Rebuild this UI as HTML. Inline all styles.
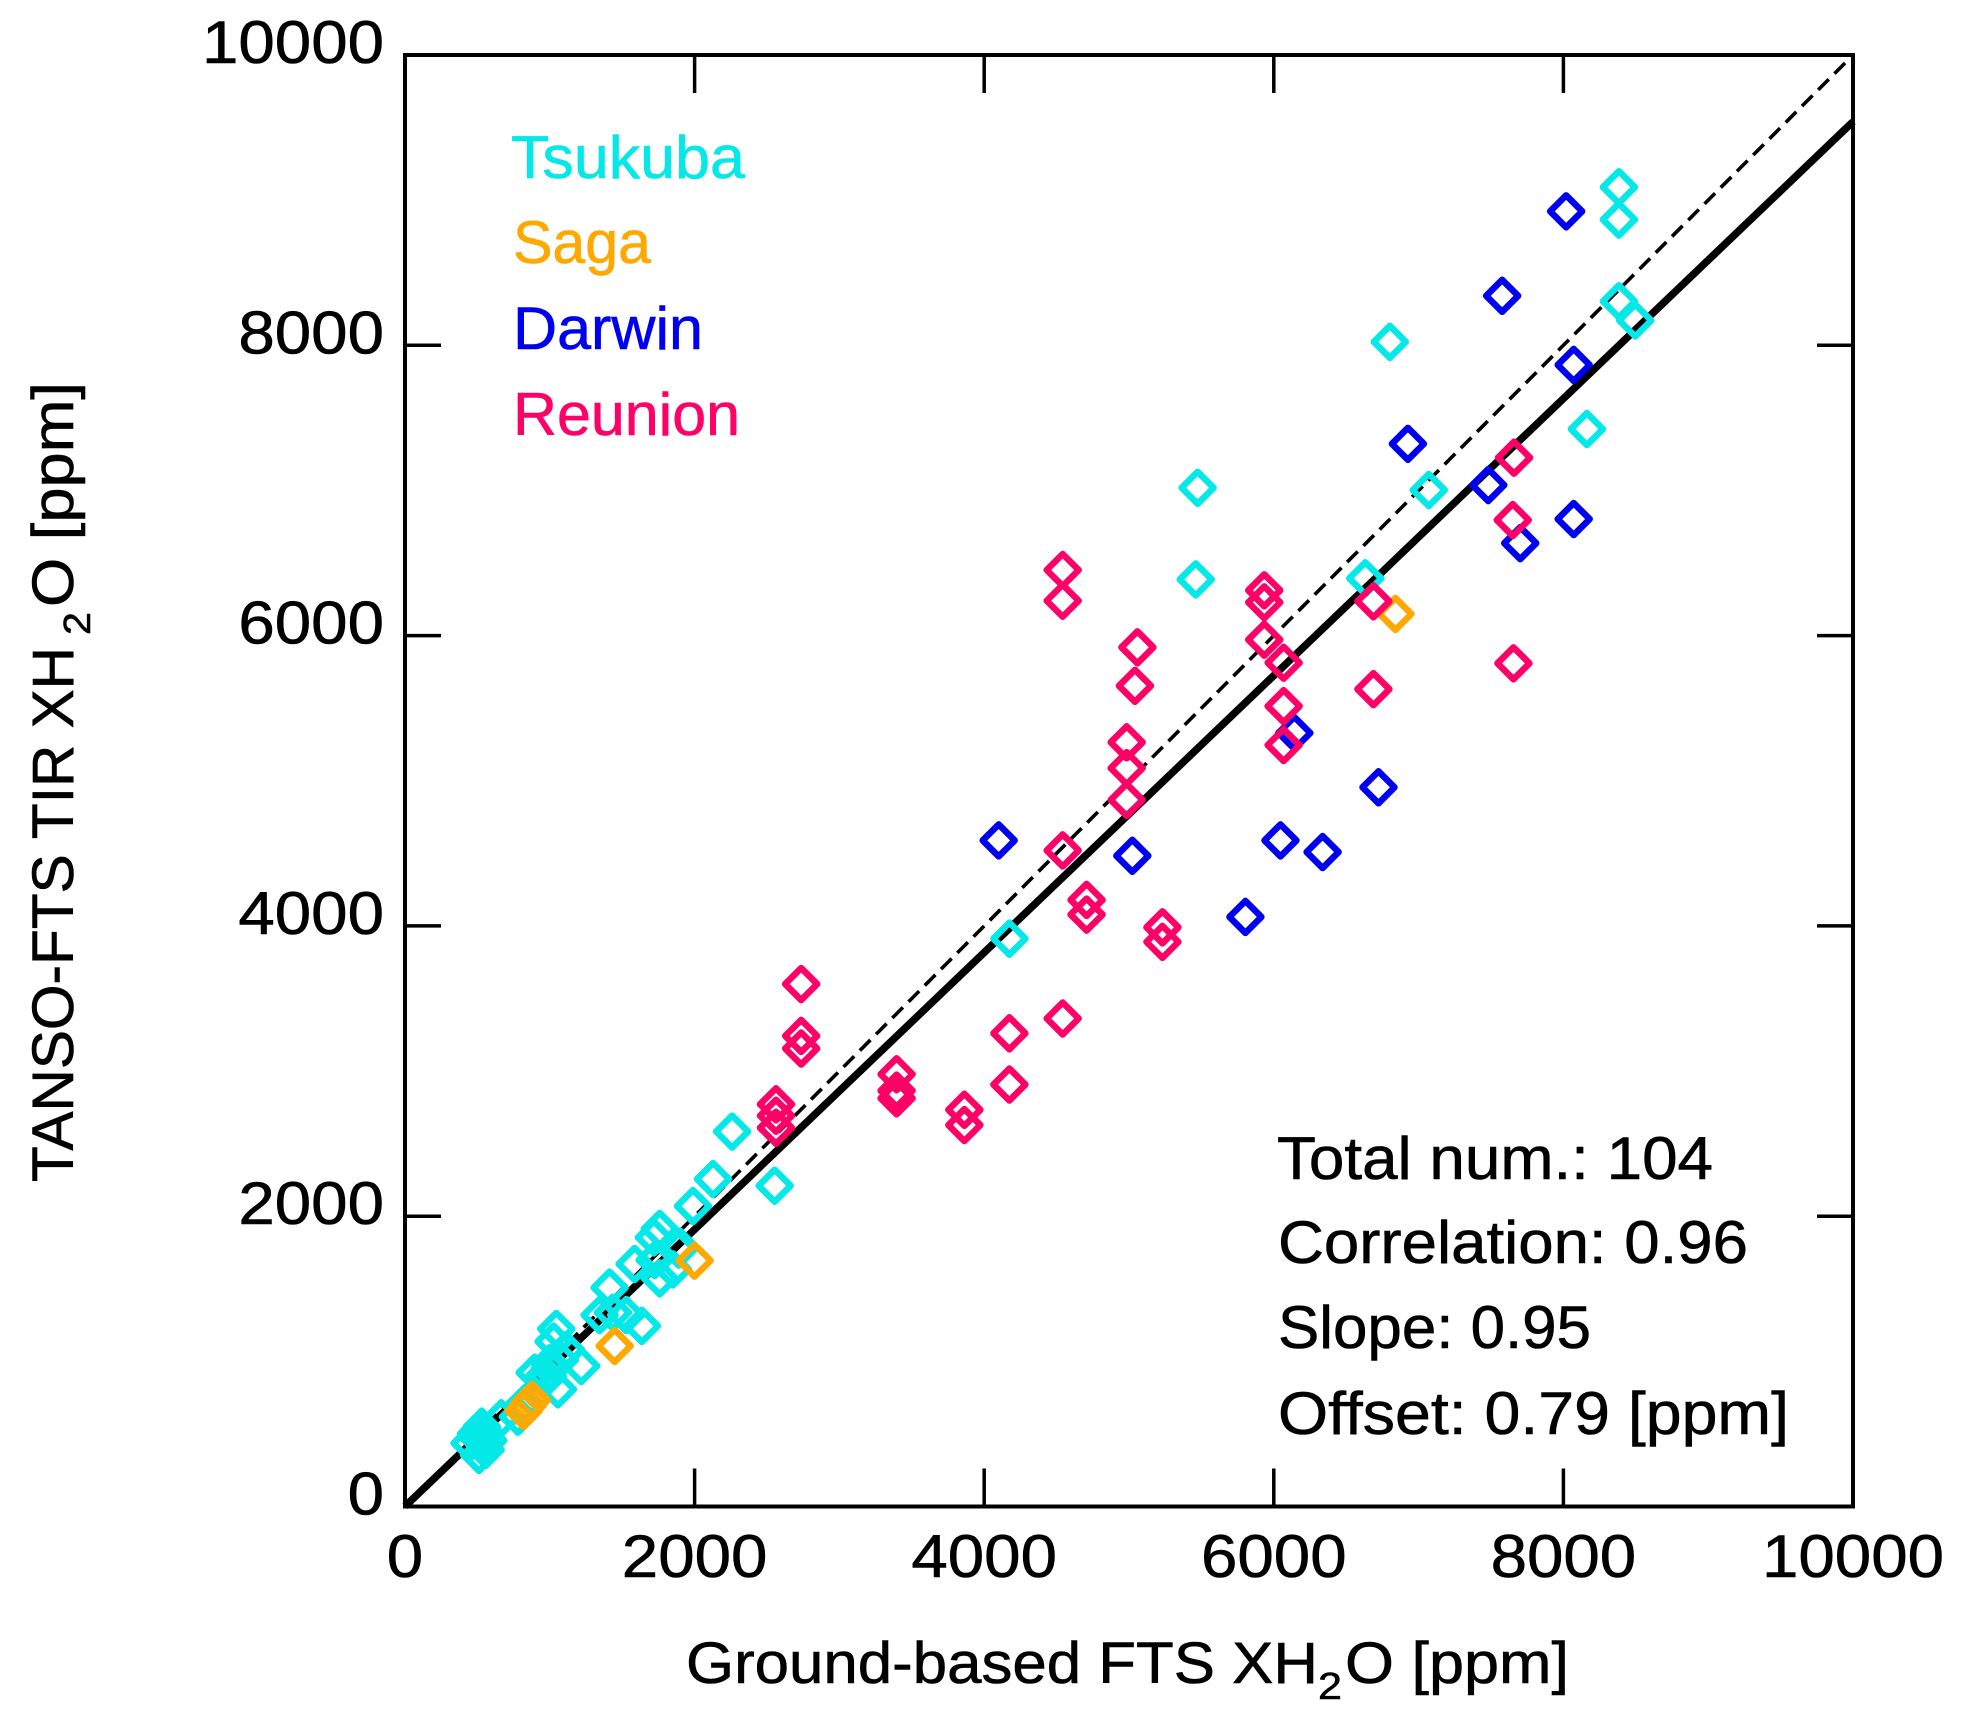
<!DOCTYPE html>
<html lang="en">
<head>
<meta charset="utf-8">
<title>TANSO-FTS TIR vs Ground-based FTS XH2O</title>
<style>
html,body{margin:0;padding:0;background:#fff;width:1968px;height:1717px;overflow:hidden}
svg{display:block}
text{font-family:"Liberation Sans",sans-serif;fill:#000;stroke-width:0.6px;paint-order:stroke}
</style>
</head>
<body>
<svg id="chart" xmlns="http://www.w3.org/2000/svg" width="1968" height="1717" viewBox="0 0 1968 1717">
  <rect x="0" y="0" width="1968" height="1717" fill="#fff"/>
  <g id="lines"></g>
  <g id="marks"></g>
  <g id="axes"></g>

  <g font-size="58" stroke="#000">
    <text x="686" y="1683" textLength="632" lengthAdjust="spacingAndGlyphs">Ground-based FTS XH</text>
    <text x="1318" y="1699" font-size="38" textLength="24" lengthAdjust="spacingAndGlyphs">2</text>
    <text x="1345" y="1683" textLength="224" lengthAdjust="spacingAndGlyphs">O [ppm]</text>
  </g>
  <g font-size="58" stroke="#000">
    <text transform="translate(73,1182) rotate(-90)" textLength="535" lengthAdjust="spacingAndGlyphs">TANSO-FTS TIR XH</text>
    <text transform="translate(90,635) rotate(-90)" font-size="38" textLength="23" lengthAdjust="spacingAndGlyphs">2</text>
    <text transform="translate(73,607) rotate(-90)" textLength="225" lengthAdjust="spacingAndGlyphs">O [ppm]</text>
  </g>

  <g font-size="60">
    <text x="511" y="178" style="fill:#04e8e8;stroke:#04e8e8" textLength="234" lengthAdjust="spacingAndGlyphs">Tsukuba</text>
    <text x="513" y="263" style="fill:#ffa800;stroke:#ffa800" textLength="138" lengthAdjust="spacingAndGlyphs">Saga</text>
    <text x="513" y="349" style="fill:#0000f0;stroke:#0000f0" textLength="190" lengthAdjust="spacingAndGlyphs">Darwin</text>
    <text x="513" y="435" style="fill:#ff0066;stroke:#ff0066" textLength="227" lengthAdjust="spacingAndGlyphs">Reunion</text>
  </g>

  <g font-size="60" stroke="#000">
    <text x="1277" y="1179" textLength="436" lengthAdjust="spacingAndGlyphs">Total num.: 104</text>
    <text x="1278" y="1263" textLength="470" lengthAdjust="spacingAndGlyphs">Correlation: 0.96</text>
    <text x="1278" y="1348" textLength="313" lengthAdjust="spacingAndGlyphs">Slope: 0.95</text>
    <text x="1278" y="1434" textLength="511" lengthAdjust="spacingAndGlyphs">Offset: 0.79 [ppm]</text>
  </g>
</svg>
<script>
var xTickValues = [0, 2000, 4000, 6000, 8000, 10000];
var yTickValues = [0, 2000, 4000, 6000, 8000, 10000];
var xTickLabels = ["0", "2000", "4000", "6000", "8000", "10000"];
var yTickLabels = ["0", "2000", "4000", "6000", "8000", "10000"];

var tsukubaX = [8383,8383,8383,8496,6801,8162,7070,5474,5461,6632,4174,2259,2127,2553,1989,1759,1719,1900,1890,1586,1759,1851,1724,1413,1344,1436,1528,1636,1045,1026,1114,1217,895,999,987,1056,826,884,780,665,1070,1000,960,515,538,530,560,557,446,511,490,540,505,575,550];
var tsukubaY = [9089,8866,8303,8171,8024,7423,7003,7018,6387,6395,3912,2583,2256,2210,2070,1912,1854,1790,1770,1671,1572,1634,1698,1508,1319,1336,1319,1244,1223,1136,1078,968,922,987,895,807,711,745,619,608,1010,950,900,527,481,550,470,390,436,355,500,440,470,455,510];

var sagaX = [6840,2000,1448,877,819,848];
var sagaY = [6149,1694,1106,734,658,696];

var darwinX = [8019,7577,8071,6926,7481,8071,7702,6142,6723,6046,6337,5023,4100,5804];
var darwinY = [8923,8341,7865,7321,7037,6803,6637,5329,4955,4589,4509,4483,4589,4062];

var reunionX = [7659,7650,6688,7655,6688,5934,5934,5934,6068,6068,6068,5058,5041,4542,4542,4984,4984,4984,4542,4707,4707,5231,5231,4542,4174,4174,2736,2736,2736,2562,2562,2562,3395,3395,3395,3863,3863];
var reunionY = [7226,6796,6236,5809,5631,6312,6229,5972,5813,5514,5246,5919,5654,6452,6240,5265,5087,4868,4520,4179,4078,3990,3890,3362,3260,2907,3599,3242,3155,2771,2692,2609,2978,2865,2812,2733,2628];

var fitSlope = 0.954;
var fitOffset = 0.79;
var domainMin = 0;
var domainMax = 10000;

var SVGNS = "http://www.w3.org/2000/svg";
var plotL = 405, plotR = 1853, plotT = 55, plotB = 1506.5;

function sx(v){ return plotL + (v - domainMin) / (domainMax - domainMin) * (plotR - plotL); }
function sy(v){ return plotB - (v - domainMin) / (domainMax - domainMin) * (plotB - plotT); }

function make(tag, parent){
  var el = document.createElementNS(SVGNS, tag);
  parent.appendChild(el);
  return el;
}
function setLine(el, x1, y1, x2, y2, w){
  el.setAttribute("x1", x1);
  el.setAttribute("y1", y1);
  el.setAttribute("x2", x2);
  el.setAttribute("y2", y2);
  el.setAttribute("stroke", "#000");
  el.setAttribute("stroke-width", w);
}

var linesG = document.getElementById("lines");
var marksG = document.getElementById("marks");
var axesG = document.getElementById("axes");

var oneToOne = make("line", linesG);


setLine(oneToOne, sx(domainMin), sy(domainMin), sx(domainMax) - 3, sy(domainMax) + 3, 3.6);
oneToOne.setAttribute("stroke-dasharray", "15 8");

var fitLine = make("line", linesG);


setLine(fitLine, sx(domainMin), sy(fitOffset), sx(domainMax), sy(fitSlope * domainMax + fitOffset), 7.5);

function drawSeries(xs, ys, color, group){
  var half = 16;
  for (var i = 0; i < xs.length; i++){
    var p = make("polygon", group);
    
    
    var cx = sx(xs[i]), cy = sy(ys[i]);
    p.setAttribute("points", cx + "," + (cy - half) + " " + (cx + half) + "," + cy + " " + cx + "," + (cy + half) + " " + (cx - half) + "," + cy);
    p.setAttribute("fill", "none");
    p.setAttribute("stroke", color);
    p.setAttribute("stroke-width", "6.5");
    p.setAttribute("stroke-linejoin", "round");
  }
}

var tsukubaGroup = make("g", marksG);


drawSeries(tsukubaX, tsukubaY, "#04e8e8", tsukubaGroup);

var sagaGroup = make("g", marksG);


drawSeries(sagaX, sagaY, "#ffa800", sagaGroup);

var darwinGroup = make("g", marksG);


drawSeries(darwinX, darwinY, "#0000f0", darwinGroup);

var reunionGroup = make("g", marksG);


drawSeries(reunionX, reunionY, "#ff0066", reunionGroup);

var frame = make("rect", axesG);


frame.setAttribute("x", plotL);
frame.setAttribute("y", plotT);
frame.setAttribute("width", plotR - plotL);
frame.setAttribute("height", plotB - plotT);
frame.setAttribute("fill", "none");
frame.setAttribute("stroke", "#000");
frame.setAttribute("stroke-width", "4");

var i, t, lab, tx, ty;
for (i = 0; i < xTickValues.length; i++){
  tx = sx(xTickValues[i]);
  if (xTickValues[i] > domainMin && xTickValues[i] < domainMax){
    t = make("line", axesG);
    
    
    setLine(t, tx, plotB, tx, plotB - 38, 3.5);
    t = make("line", axesG);
    
    
    setLine(t, tx, plotT, tx, plotT + 38, 3.5);
  }
  lab = make("text", axesG);
  
  
  lab.textContent = xTickLabels[i];
  lab.setAttribute("font-size", "60");
  lab.setAttribute("stroke", "#000");
  var xw = xTickLabels[i].length * 36.4;
  lab.setAttribute("x", tx - xw / 2);
  lab.setAttribute("y", 1577);
  lab.setAttribute("textLength", xw);
  lab.setAttribute("lengthAdjust", "spacingAndGlyphs");
}
for (i = 0; i < yTickValues.length; i++){
  ty = sy(yTickValues[i]);
  if (yTickValues[i] > domainMin && yTickValues[i] < domainMax){
    t = make("line", axesG);
    
    
    setLine(t, plotL, ty, plotL + 36, ty, 3.5);
    t = make("line", axesG);
    
    
    setLine(t, plotR, ty, plotR - 36, ty, 3.5);
  }
  lab = make("text", axesG);
  
  
  lab.textContent = yTickLabels[i];
  lab.setAttribute("font-size", "60");
  lab.setAttribute("stroke", "#000");
  var yw = yTickLabels[i].length * 36.4;
  lab.setAttribute("x", 384 - yw);
  lab.setAttribute("y", ty + 8);
  lab.setAttribute("textLength", yw);
  lab.setAttribute("lengthAdjust", "spacingAndGlyphs");
}
</script>
</body>
</html>
